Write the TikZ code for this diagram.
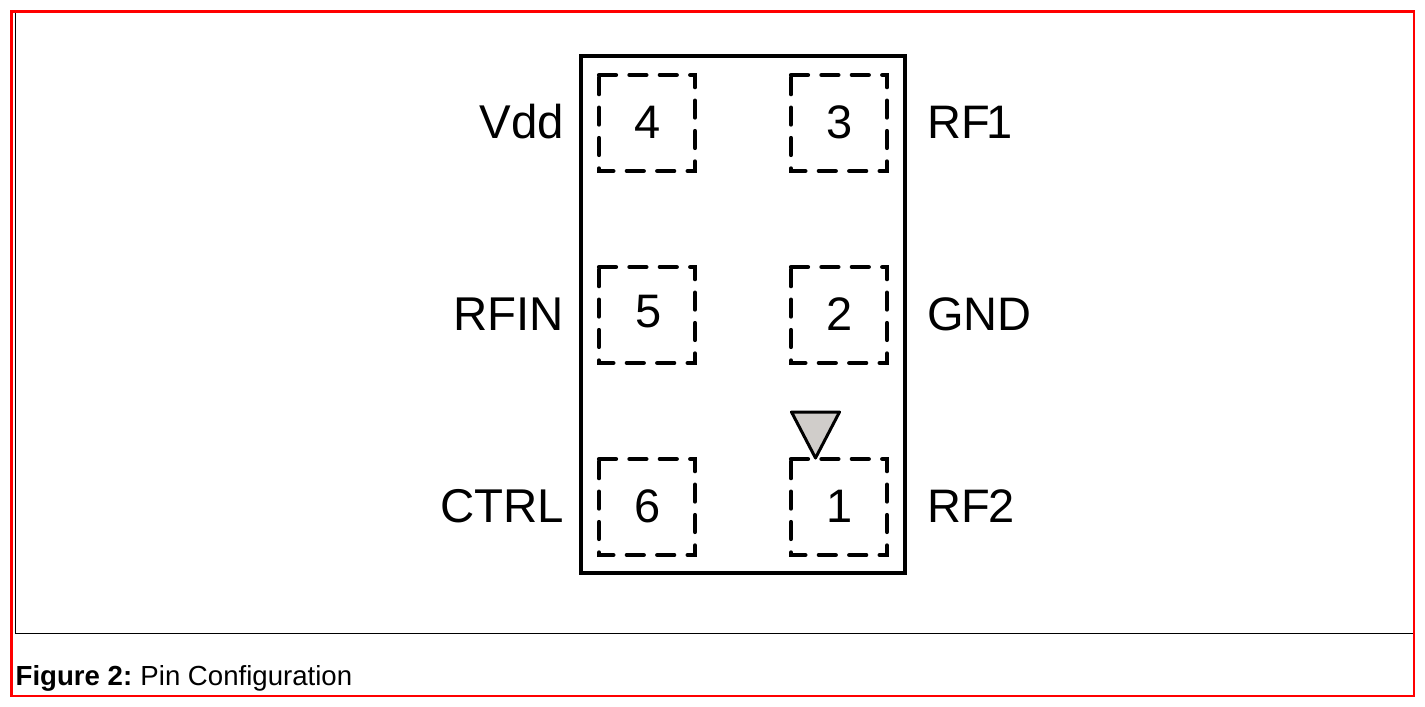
\documentclass[tikz,border=0pt]{standalone}
\usepackage{fontspec}
\setmainfont{Liberation Sans}
\tikzset{
  redframe/.style={draw=red,line width=2.6pt},
  thinframe/.style={draw=black,line width=1pt},
  chipbody/.style={draw=black,line width=4.8pt,miter limit=10},
  padbox/.style={draw=black,line width=4.2pt,line cap=round,dash pattern=on 17pt off 13.4pt},
  pinnum/.style={inner sep=0pt,anchor=base,font=\fontsize{47}{47}\selectfont},
  pinleft/.style={inner sep=0pt,anchor=base east,font=\fontsize{47.4}{48}\selectfont},
  pinright/.style={inner sep=0pt,anchor=base west,font=\fontsize{47}{47}\selectfont},
  caption/.style={inner sep=0pt,anchor=base west,font=\fontsize{27.6}{28}\selectfont},
  marker/.style={draw=black,fill=black!18!white!95!brown,line width=3pt,line join=round}
}
\begin{document}
\begin{tikzpicture}[x=1pt,y=-1pt]
\useasboundingbox (0,0) rectangle (1425,707);
\draw[thinframe] (15.7,12) -- (15.7,633.3) -- (1413.8,633.3);
\draw[redframe] (11.5,11.5) rectangle (1413.8,696);
\draw[chipbody] (581,56) rectangle (905,573);
% pads, drawn clockwise from the top-left corner
\draw[padbox] (599,75) -- (695,75) -- (695,171) -- (599,171) -- cycle;
\draw[padbox] (791,75) -- (887,75) -- (887,171) -- (791,171) -- cycle;
\draw[padbox] (599,267) -- (695,267) -- (695,363) -- (599,363) -- cycle;
\draw[padbox] (791,267) -- (887,267) -- (887,363) -- (791,363) -- cycle;
\draw[padbox] (599,459) -- (695,459) -- (695,555) -- (599,555) -- cycle;
\draw[padbox] (791,459) -- (887,459) -- (887,555) -- (791,555) -- cycle;
\draw[marker] (791.5,412) -- (839.5,412) -- (815.5,458) -- cycle;
\node[pinnum] (n4) at (648,138) {4};
\node[pinnum] (n3) at (840,138) {3};
\node[pinnum] (n5) at (649,327) {5};
\node[pinnum] (n2) at (840,330) {2};
\node[pinnum] (n6) at (648,522) {6};
\node[pinnum] (n1) at (840,522) {1};
\node[pinleft] (vdd) at (564,138) {Vdd};
\node[pinleft] (rfin) at (564,330) {RFIN};
\node[pinleft] (ctrl) at (564,522) {CTRL};
\node[pinright] (rf1) at (927,138) {RF\kern-3pt 1};
\node[pinright] (gnd) at (927,330) {GND};
\node[pinright] (rf2) at (927,522) {RF\kern-1pt 2};
\node[caption] (cap) at (15.5,685.5) {\textbf{Figure 2:}\hspace{-2pt} Pin Configuration};
\end{tikzpicture}
\end{document}
